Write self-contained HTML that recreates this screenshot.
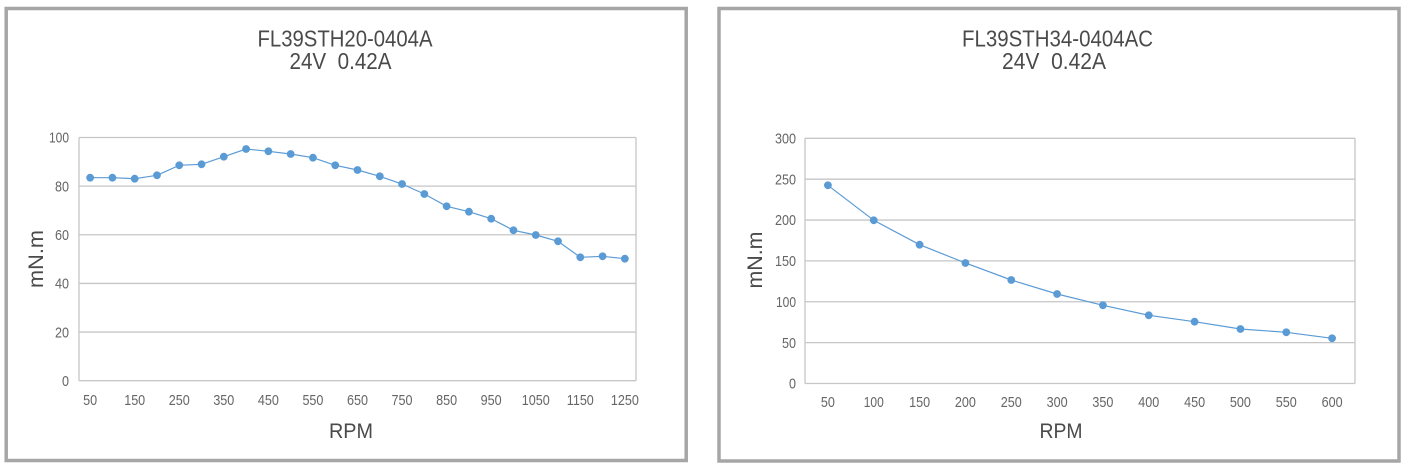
<!DOCTYPE html>
<html><head><meta charset="utf-8"><style>
html,body{margin:0;padding:0;background:#fff;}
svg{display:block;}
text{font-family:"Liberation Sans",sans-serif;}
</style></head><body>
<svg width="1407" height="471" viewBox="0 0 1407 471" xmlns="http://www.w3.org/2000/svg">
<rect x="0" y="0" width="1407" height="471" fill="#fff"/>
<!-- panel borders -->
<rect x="6.2" y="8.5" width="680" height="452" fill="#fff" stroke="#a6a6a6" stroke-width="3.5"/>
<rect x="719" y="8.5" width="680" height="452.5" fill="#fff" stroke="#a6a6a6" stroke-width="3.5"/>

<!-- ===== LEFT CHART ===== -->
<g fill="#4a4a4a">
<text x="345" y="46.7" font-size="23" text-anchor="middle" textLength="175" lengthAdjust="spacingAndGlyphs">FL39STH20-0404A</text>
<text x="340.5" y="69" font-size="23" text-anchor="middle" textLength="102" lengthAdjust="spacingAndGlyphs" xml:space="preserve">24V  0.42A</text>
</g>
<g stroke="#c6c6c6" stroke-width="1.3" fill="none">
<line x1="79" y1="137.5" x2="636" y2="137.5"/>
<line x1="79" y1="186.14" x2="636" y2="186.14"/>
<line x1="79" y1="234.78" x2="636" y2="234.78"/>
<line x1="79" y1="283.42" x2="636" y2="283.42"/>
<line x1="79" y1="332.06" x2="636" y2="332.06"/>
<line x1="79" y1="380.7" x2="636" y2="380.7"/>
<line x1="79" y1="137.5" x2="79" y2="380.7"/>
<line x1="636" y1="137.5" x2="636" y2="380.7"/>
</g>
<g fill="#666666" font-size="15" text-anchor="end">
<text x="69" y="142.7" textLength="20" lengthAdjust="spacingAndGlyphs">100</text>
<text x="69" y="191.3" textLength="14" lengthAdjust="spacingAndGlyphs">80</text>
<text x="69" y="240" textLength="14" lengthAdjust="spacingAndGlyphs">60</text>
<text x="69" y="288.6" textLength="14" lengthAdjust="spacingAndGlyphs">40</text>
<text x="69" y="337.3" textLength="14" lengthAdjust="spacingAndGlyphs">20</text>
<text x="69" y="385.9" textLength="7" lengthAdjust="spacingAndGlyphs">0</text>
</g>
<g fill="#666666" font-size="15" text-anchor="middle">
<text x="90.14" y="405" textLength="14" lengthAdjust="spacingAndGlyphs">50</text>
<text x="134.7" y="405" textLength="21" lengthAdjust="spacingAndGlyphs">150</text>
<text x="179.26" y="405" textLength="21" lengthAdjust="spacingAndGlyphs">250</text>
<text x="223.82" y="405" textLength="21" lengthAdjust="spacingAndGlyphs">350</text>
<text x="268.38" y="405" textLength="21" lengthAdjust="spacingAndGlyphs">450</text>
<text x="312.94" y="405" textLength="21" lengthAdjust="spacingAndGlyphs">550</text>
<text x="357.5" y="405" textLength="21" lengthAdjust="spacingAndGlyphs">650</text>
<text x="402.06" y="405" textLength="21" lengthAdjust="spacingAndGlyphs">750</text>
<text x="446.62" y="405" textLength="21" lengthAdjust="spacingAndGlyphs">850</text>
<text x="491.18" y="405" textLength="21" lengthAdjust="spacingAndGlyphs">950</text>
<text x="535.74" y="405" textLength="28" lengthAdjust="spacingAndGlyphs">1050</text>
<text x="580.3" y="405" textLength="27" lengthAdjust="spacingAndGlyphs">1150</text>
<text x="624.86" y="405" textLength="28" lengthAdjust="spacingAndGlyphs">1250</text>
</g>
<text transform="translate(43,259) rotate(-90)" fill="#4a4a4a" font-size="21" text-anchor="middle" textLength="58" lengthAdjust="spacingAndGlyphs">mN.m</text>
<text x="351" y="438" fill="#4a4a4a" font-size="21" text-anchor="middle" textLength="44" lengthAdjust="spacingAndGlyphs">RPM</text>
<polyline fill="none" stroke="#5b9bd5" stroke-width="1.2" points="90.14,177.7 112.42,177.7 134.7,178.7 156.98,175.3 179.26,165.3 201.54,164.3 223.82,156.7 246.1,149 268.38,151.3 290.66,154 312.94,157.7 335.22,165.3 357.5,170 379.78,176.3 402.06,184 424.34,194 446.62,206.3 468.9,211.7 491.18,218.7 513.46,230.3 535.74,235 558.02,241.3 580.3,257.3 602.58,256.3 624.86,258.7"/>
<g fill="#5b9bd5">
<circle cx="90.14" cy="177.7" r="3.9"/><circle cx="112.42" cy="177.7" r="3.9"/><circle cx="134.7" cy="178.7" r="3.9"/><circle cx="156.98" cy="175.3" r="3.9"/><circle cx="179.26" cy="165.3" r="3.9"/><circle cx="201.54" cy="164.3" r="3.9"/><circle cx="223.82" cy="156.7" r="3.9"/><circle cx="246.1" cy="149" r="3.9"/><circle cx="268.38" cy="151.3" r="3.9"/><circle cx="290.66" cy="154" r="3.9"/><circle cx="312.94" cy="157.7" r="3.9"/><circle cx="335.22" cy="165.3" r="3.9"/><circle cx="357.5" cy="170" r="3.9"/><circle cx="379.78" cy="176.3" r="3.9"/><circle cx="402.06" cy="184" r="3.9"/><circle cx="424.34" cy="194" r="3.9"/><circle cx="446.62" cy="206.3" r="3.9"/><circle cx="468.9" cy="211.7" r="3.9"/><circle cx="491.18" cy="218.7" r="3.9"/><circle cx="513.46" cy="230.3" r="3.9"/><circle cx="535.74" cy="235" r="3.9"/><circle cx="558.02" cy="241.3" r="3.9"/><circle cx="580.3" cy="257.3" r="3.9"/><circle cx="602.58" cy="256.3" r="3.9"/><circle cx="624.86" cy="258.7" r="3.9"/>
</g>

<!-- ===== RIGHT CHART ===== -->
<g fill="#4a4a4a">
<text x="1057.5" y="46.7" font-size="23" text-anchor="middle" textLength="191" lengthAdjust="spacingAndGlyphs">FL39STH34-0404AC</text>
<text x="1054" y="69" font-size="23" text-anchor="middle" textLength="104" lengthAdjust="spacingAndGlyphs" xml:space="preserve">24V  0.42A</text>
</g>
<g stroke="#c6c6c6" stroke-width="1.3" fill="none">
<line x1="805" y1="138.3" x2="1355" y2="138.3"/>
<line x1="805" y1="179.17" x2="1355" y2="179.17"/>
<line x1="805" y1="220.04" x2="1355" y2="220.04"/>
<line x1="805" y1="260.9" x2="1355" y2="260.9"/>
<line x1="805" y1="301.77" x2="1355" y2="301.77"/>
<line x1="805" y1="342.64" x2="1355" y2="342.64"/>
<line x1="805" y1="383.5" x2="1355" y2="383.5"/>
<line x1="805" y1="138.3" x2="805" y2="383.5"/>
<line x1="1355" y1="138.3" x2="1355" y2="383.5"/>
</g>
<g fill="#666666" font-size="15" text-anchor="end">
<text x="796" y="143.5" textLength="21" lengthAdjust="spacingAndGlyphs">300</text>
<text x="796" y="184.4" textLength="21" lengthAdjust="spacingAndGlyphs">250</text>
<text x="796" y="225.2" textLength="21" lengthAdjust="spacingAndGlyphs">200</text>
<text x="796" y="266.1" textLength="21" lengthAdjust="spacingAndGlyphs">150</text>
<text x="796" y="307" textLength="20" lengthAdjust="spacingAndGlyphs">100</text>
<text x="796" y="347.8" textLength="14" lengthAdjust="spacingAndGlyphs">50</text>
<text x="796" y="388.7" textLength="7" lengthAdjust="spacingAndGlyphs">0</text>
</g>
<g fill="#666666" font-size="15" text-anchor="middle">
<text x="827.9" y="407" textLength="14" lengthAdjust="spacingAndGlyphs">50</text>
<text x="873.75" y="407" textLength="20" lengthAdjust="spacingAndGlyphs">100</text>
<text x="919.58" y="407" textLength="21" lengthAdjust="spacingAndGlyphs">150</text>
<text x="965.42" y="407" textLength="21" lengthAdjust="spacingAndGlyphs">200</text>
<text x="1011.25" y="407" textLength="21" lengthAdjust="spacingAndGlyphs">250</text>
<text x="1057.08" y="407" textLength="21" lengthAdjust="spacingAndGlyphs">300</text>
<text x="1102.92" y="407" textLength="21" lengthAdjust="spacingAndGlyphs">350</text>
<text x="1148.75" y="407" textLength="21" lengthAdjust="spacingAndGlyphs">400</text>
<text x="1194.58" y="407" textLength="21" lengthAdjust="spacingAndGlyphs">450</text>
<text x="1240.42" y="407" textLength="21" lengthAdjust="spacingAndGlyphs">500</text>
<text x="1286.25" y="407" textLength="21" lengthAdjust="spacingAndGlyphs">550</text>
<text x="1332.08" y="407" textLength="21" lengthAdjust="spacingAndGlyphs">600</text>
</g>
<text transform="translate(762,260) rotate(-90)" fill="#4a4a4a" font-size="21" text-anchor="middle" textLength="57" lengthAdjust="spacingAndGlyphs">mN.m</text>
<text x="1061" y="438" fill="#4a4a4a" font-size="21" text-anchor="middle" textLength="43" lengthAdjust="spacingAndGlyphs">RPM</text>
<polyline fill="none" stroke="#5b9bd5" stroke-width="1.2" points="827.9,185.3 873.75,220.3 919.58,244.7 965.42,263 1011.25,280 1057.08,294 1102.92,305.3 1148.75,315.3 1194.58,321.7 1240.42,329 1286.25,332.3 1332.08,338.3"/>
<g fill="#5b9bd5">
<circle cx="827.9" cy="185.3" r="3.9"/><circle cx="873.75" cy="220.3" r="3.9"/><circle cx="919.58" cy="244.7" r="3.9"/><circle cx="965.42" cy="263" r="3.9"/><circle cx="1011.25" cy="280" r="3.9"/><circle cx="1057.08" cy="294" r="3.9"/><circle cx="1102.92" cy="305.3" r="3.9"/><circle cx="1148.75" cy="315.3" r="3.9"/><circle cx="1194.58" cy="321.7" r="3.9"/><circle cx="1240.42" cy="329" r="3.9"/><circle cx="1286.25" cy="332.3" r="3.9"/><circle cx="1332.08" cy="338.3" r="3.9"/>
</g>
</svg>
</body></html>
